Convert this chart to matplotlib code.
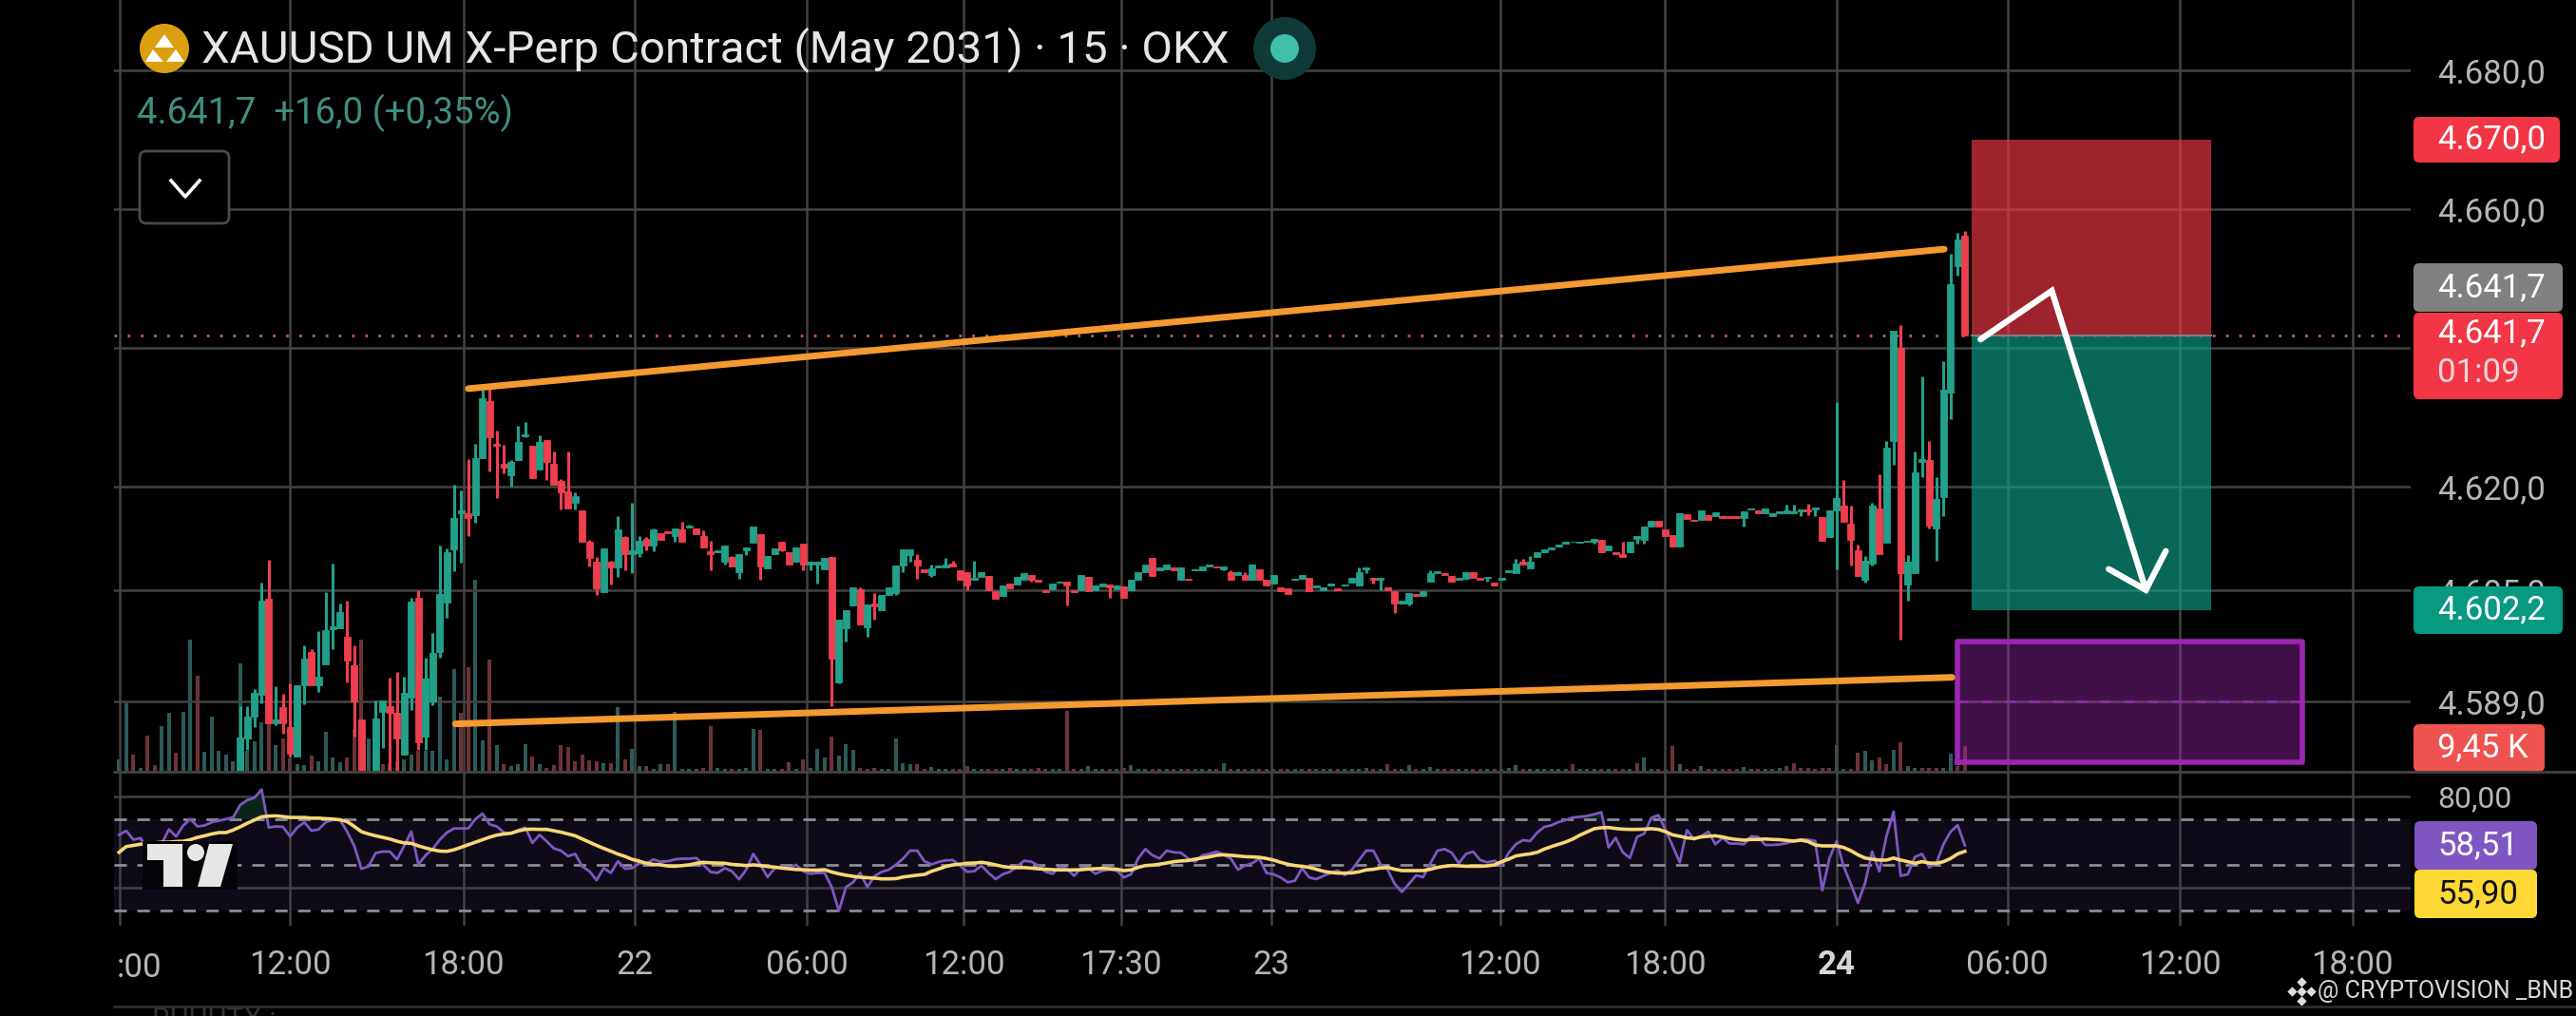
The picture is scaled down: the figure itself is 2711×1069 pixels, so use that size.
import numpy as np
import matplotlib
matplotlib.use('Agg')
import matplotlib.pyplot as plt
from matplotlib.patches import Circle, FancyBboxPatch, Polygon, Rectangle

plt.rcParams['font.family'] = ['Roboto', 'DejaVu Sans']

nan = float('nan')
NUM_BARS = 260
FIRST_CANDLE = 17   # older candles are below the visible range

opens = [
    4578.5,4583.7,4586.8,4590.0,4603.8,4585.9,4588.2,4585.4,4581.1,4591.3,
    4596.2,4591.3,4594.4,4599.5,4599.6,4598.4,4594.3,4586.5,nan,4578.5,
    4587.5,4588.4,4587.4,4581.4,4589.6,4603.9,4584.0,4589.1,4596.2,4603.3,
    4610.9,4616.2,4616.1,4615.9,4624.1,4632.3,4626.2,4623.3,4621.6,4623.8,
    4627.2,4625.9,4622.4,4626.7,4623.3,4620.8,4619.3,4617.6,4616.6,4612.1,
    4609.2,4604.8,4609.1,4608.3,4612.7,4610.3,4610.4,4612.4,4611.5,4613.3,
    4613.6,4612.9,4613.8,4614.1,4613.9,4612.9,4610.7,4610.6,4609.2,4609.9,
    4607.7,4610.8,4611.9,4613.1,4608.2,4610.2,4612.0,4610.5,4609.1,4611.7,
    4608.8,4608.8,4608.1,4609.8,4591.8,4599.6,4602.9,4605.2,4599.7,4603.2,
    4602.2,4604.4,4604.7,4608.6,4610.1,4609.4,4608.1,4607.2,4608.3,4608.4,
    4608.9,4608.0,4607.7,4606.6,4607.0,4607.1,4604.9,4604.3,4606.0,4605.9,
    4606.6,4607.3,4606.6,4605.1,4605.2,4606.1,4606.3,4605.1,4605.1,4607.0,
    4605.1,4605.6,4605.9,4605.2,4605.6,4605.0,4606.5,4607.7,4609.7,4608.0,
    4608.1,4608.3,4606.6,4606.7,4607.9,4607.9,4608.5,4608.5,4608.1,4607.6,
    4607.3,4607.2,4606.6,4608.1,4606.5,4606.0,4605.5,4605.3,4606.5,4606.7,
    4606.9,4605.4,4605.1,4605.8,4605.3,4605.7,4606.2,4605.8,4608.1,4606.8,
    4606.6,4605.4,4604.9,4603.2,4603.1,4604.5,4604.3,4606.3,4607.5,4607.5,
    4607.1,4606.5,4606.7,4607.7,4606.8,4606.8,4606.1,4606.5,4607.7,4607.5,
    4609.1,4608.2,4609.9,4610.6,4610.9,4611.4,4611.7,4612.0,4611.9,4612.0,
    4612.1,4612.3,4610.8,4610.6,4610.2,4610.5,4612.5,4612.3,4614.3,4615.0,
    4613.8,4613.0,4611.4,4616.0,4615.2,4615.2,4615.9,4615.7,4615.8,4615.8,
    4615.7,4615.5,4616.7,4616.5,4616.1,4615.8,4616.1,4616.2,4616.1,4616.4,
    4616.7,4616.7,4615.6,4612.7,4616.6,4617.2,4614.6,4610.8,4606.5,4608.9,
    4616.8,4611.9,4626.6,4640.0,4605.9,4607.5,4623.6,4623.8,4614.0,4618.5,
    4633.6,4651.7,4656.2,
]
closes = [
    4583.8,4586.8,4590.3,4603.6,4585.9,4586.4,4585.9,4581.5,4591.3,4595.2,
    4591.3,4592.6,4599.3,4599.8,4601.9,4594.9,4589.1,4578.5,nan,4586.6,
    4589.2,4587.4,4583.7,4590.3,4603.4,4583.2,4592.3,4596.0,4604.5,4610.6,
    4615.4,4616.6,4615.4,4624.1,4632.7,4627.1,4625.9,4622.7,4623.6,4626.4,
    4627.5,4621.2,4626.4,4623.6,4620.2,4619.2,4616.8,4618.6,4612.0,4609.7,
    4605.3,4611.1,4608.3,4613.8,4610.2,4610.8,4612.2,4611.5,4613.8,4612.3,
    4613.3,4613.9,4612.1,4614.4,4613.1,4611.2,4610.3,4610.8,4611.5,4608.5,
    4610.3,4611.2,4614.3,4608.5,4610.0,4611.1,4610.8,4608.8,4611.2,4608.7,
    4609.1,4609.1,4609.7,4595.2,4600.8,4602.2,4605.5,4600.1,4603.0,4602.7,
    4604.4,4605.5,4608.6,4611.0,4611.0,4608.6,4607.7,4608.2,4608.6,4608.7,
    4608.5,4606.6,4605.7,4606.9,4607.6,4605.0,4603.8,4605.8,4605.3,4607.0,
    4607.5,4606.6,4606.3,4604.8,4606.0,4606.3,4605.8,4604.8,4607.2,4604.9,
    4605.7,4606.0,4605.5,4605.8,4604.0,4606.5,4607.6,4608.7,4607.1,4608.3,
    4608.7,4608.0,4608.3,4606.5,4608.1,4608.5,4608.7,4608.3,4608.5,4606.6,
    4607.6,4606.6,4608.8,4606.6,4605.8,4607.2,4604.9,4604.5,4606.7,4607.3,
    4604.9,4605.7,4605.4,4606.0,4605.0,4605.9,4606.9,4607.7,4608.4,4606.5,
    4606.8,4605.1,4603.2,4603.5,4604.7,4604.2,4604.9,4607.5,4607.8,4607.2,
    4606.3,4606.8,4607.7,4606.9,4606.5,4607.0,4605.8,4606.8,4607.9,4608.9,
    4608.8,4609.2,4610.5,4610.9,4611.2,4611.6,4612.0,4612.1,4612.0,4612.2,
    4612.5,4610.6,4611.5,4610.3,4609.9,4612.1,4612.8,4614.2,4615.0,4614.2,
    4612.9,4611.4,4616.1,4615.3,4615.0,4616.5,4615.2,4616.3,4615.5,4615.5,
    4615.4,4616.4,4616.9,4616.2,4616.8,4616.1,4616.4,4616.6,4616.4,4616.7,
    4616.4,4617.0,4612.2,4616.5,4618.3,4614.9,4612.3,4607.1,4609.3,4617.3,
    4610.2,4625.6,4642.5,4607.5,4609.1,4622.0,4624.0,4614.4,4618.2,4634.0,
    4649.2,4655.6,4641.7,
]
highs = [
    4588.4,4588.3,4590.8,4606.2,4609.5,4591.2,4590.1,4591.6,4591.3,4597.1,
    4596.5,4599.1,4604.8,4608.9,4603.2,4603.6,4597.1,4586.5,nan,4589.2,
    4589.2,4592.5,4593.3,4592.6,4603.9,4605.1,4595.4,4598.9,4611.5,4611.1,
    4620.3,4619.4,4624.0,4626.1,4634.0,4634.7,4628.0,4626.0,4623.8,4628.8,
    4629.3,4625.9,4627.4,4626.7,4625.0,4621.1,4625.1,4619.2,4616.6,4612.3,
    4609.8,4611.1,4609.3,4615.8,4612.8,4617.7,4612.8,4612.7,4613.9,4613.3,
    4613.6,4614.0,4614.9,4614.5,4613.9,4613.7,4612.2,4610.8,4611.5,4610.0,
    4610.3,4611.2,4614.3,4613.1,4610.0,4611.1,4612.1,4610.5,4611.2,4611.7,
    4609.2,4609.2,4609.7,4609.8,4600.8,4602.2,4605.5,4605.4,4603.0,4604.6,
    4604.4,4605.5,4608.6,4611.0,4611.0,4610.3,4608.1,4608.8,4608.6,4609.7,
    4609.3,4608.0,4607.7,4609.3,4607.6,4607.1,4604.9,4605.8,4606.0,4607.0,
    4607.5,4607.3,4606.6,4605.1,4606.0,4606.3,4606.3,4605.1,4607.2,4607.0,
    4605.7,4606.0,4605.9,4605.8,4605.6,4606.5,4607.6,4608.7,4609.7,4608.3,
    4608.7,4608.3,4608.3,4606.7,4608.1,4608.5,4608.7,4608.5,4608.5,4608.0,
    4607.6,4607.7,4608.8,4608.1,4606.5,4607.2,4605.5,4605.3,4606.7,4607.3,
    4606.9,4605.7,4605.4,4606.0,4605.3,4605.9,4606.9,4608.4,4608.4,4606.8,
    4606.8,4605.4,4604.9,4603.5,4604.7,4604.5,4604.9,4608.0,4607.8,4607.5,
    4607.1,4606.8,4607.7,4607.7,4606.8,4607.0,4606.1,4606.8,4607.9,4609.6,
    4609.6,4610.0,4610.5,4610.9,4611.2,4611.6,4612.0,4612.1,4612.0,4612.2,
    4612.5,4612.3,4611.5,4610.6,4612.0,4612.1,4612.8,4614.2,4615.0,4615.0,
    4613.8,4613.0,4616.1,4616.0,4615.2,4616.5,4615.9,4616.3,4615.8,4615.8,
    4615.7,4616.4,4616.9,4616.5,4616.8,4616.1,4616.4,4617.4,4617.4,4616.7,
    4617.5,4617.0,4615.6,4616.5,4632.2,4621.0,4617.3,4611.6,4610.0,4617.6,
    4621.7,4626.5,4642.5,4643.2,4610.1,4625.1,4635.9,4626.5,4621.3,4638.1,
    4653.5,4656.5,4656.8,
]
lows = [
    4578.5,4582.0,4585.4,4588.8,4585.9,4585.6,4584.4,4581.1,4581.1,4588.6,
    4591.3,4590.4,4594.4,4596.6,4599.6,4591.8,4584.0,4578.5,nan,4578.5,
    4582.3,4578.5,4578.5,4581.4,4587.8,4582.0,4582.0,4588.5,4595.3,4601.1,
    4607.8,4609.0,4612.8,4614.8,4624.1,4622.2,4618.4,4621.9,4620.0,4623.8,
    4627.1,4621.2,4622.4,4621.0,4620.2,4616.7,4616.8,4616.7,4612.0,4608.5,
    4604.4,4604.8,4605.9,4607.0,4607.9,4607.5,4609.9,4610.8,4610.7,4612.3,
    4613.3,4612.1,4612.1,4614.1,4613.1,4611.2,4607.9,4610.6,4608.7,4608.5,
    4606.7,4610.1,4611.9,4606.5,4608.2,4610.2,4610.7,4608.8,4609.1,4607.9,
    4607.9,4606.0,4608.1,4588.4,4591.6,4597.6,4602.9,4600.1,4598.3,4600.8,
    4602.2,4604.4,4604.4,4607.7,4609.1,4606.7,4607.7,4607.0,4608.3,4608.4,
    4608.5,4606.6,4605.1,4606.6,4607.0,4605.0,4603.8,4604.3,4605.3,4605.9,
    4606.6,4606.3,4606.3,4604.8,4605.2,4606.1,4602.8,4604.8,4605.1,4604.9,
    4605.1,4605.6,4604.0,4605.2,4604.0,4605.0,4606.5,4607.7,4607.1,4608.0,
    4608.1,4608.0,4606.6,4606.5,4607.9,4607.9,4608.5,4608.3,4607.9,4606.6,
    4607.3,4606.6,4606.6,4606.6,4605.8,4606.0,4604.9,4604.5,4606.5,4606.7,
    4604.9,4605.4,4605.1,4605.8,4605.0,4605.7,4606.2,4605.8,4607.5,4606.0,
    4605.1,4605.1,4601.8,4603.2,4602.9,4604.2,4604.3,4606.3,4607.5,4607.2,
    4606.3,4606.5,4606.7,4606.9,4606.5,4606.3,4605.8,4606.5,4607.7,4607.5,
    4608.8,4608.2,4609.9,4610.6,4610.9,4611.4,4611.7,4612.0,4611.9,4612.0,
    4611.7,4610.6,4610.8,4610.3,4609.9,4610.5,4611.8,4611.7,4614.3,4614.2,
    4612.9,4611.4,4611.4,4615.3,4615.0,4615.2,4615.2,4615.7,4615.5,4615.5,
    4615.4,4614.2,4616.7,4616.2,4616.1,4615.8,4616.1,4616.2,4616.1,4615.8,
    4615.9,4615.8,4612.2,4612.7,4608.1,4614.9,4608.6,4607.1,4606.1,4608.6,
    4610.2,4611.9,4623.1,4598.0,4603.5,4607.5,4621.4,4614.0,4609.3,4615.8,
    4629.7,4650.4,4641.7,
]

# volume in thousands
volume = [
    4.7,25.3,6.4,1.5,13.2,2.3,16.7,21.6,6.9,22.1,
    48.7,35.5,7.2,20.2,7.6,6.4,3.7,40.0,7.6,11.1,
    18.1,17.5,9.9,12.2,5.0,2.9,2.3,6.1,3.7,14.6,
    5.2,3.5,5.2,15.7,48.7,12.2,6.0,2.7,3.0,4.0,
    4.7,6.4,7.6,7.6,7.6,27.7,4.4,37.9,21.8,38.5,
    70.7,11.4,41.4,9.7,2.7,2.0,2.9,10.3,5.5,2.9,
    1.5,2.3,9.9,9.2,3.7,6.4,4.1,3.7,3.3,3.3,
    23.9,4.7,8.4,2.0,2.0,1.2,2.9,2.9,22.1,0.9,
    0.9,0.9,1.5,16.7,1.5,0.9,1.0,1.0,1.5,15.7,
    15.5,0.9,0.9,1.0,3.5,1.0,4.7,1.5,8.4,5.2,
    12.8,5.9,10.0,7.9,1.3,0.9,1.3,0.9,0.9,12.2,
    3.0,2.7,2.7,0.9,1.7,0.9,0.9,0.9,0.9,2.1,
    0.9,0.9,0.9,0.9,0.9,1.5,0.9,0.9,0.9,1.3,
    0.9,0.9,0.9,22.3,0.9,0.9,2.1,0.9,0.9,0.9,
    0.9,1.5,2.5,0.9,0.9,0.9,0.9,0.9,0.9,0.9,
    0.9,0.9,0.9,0.9,0.9,3.0,0.9,0.9,0.9,0.9,
    0.9,0.9,0.9,0.9,0.9,0.9,0.9,0.9,0.9,0.9,
    0.9,0.9,0.9,0.9,0.9,1.3,1.0,0.9,2.7,0.9,
    0.9,2.5,0.9,0.9,1.7,0.9,0.9,0.9,0.9,0.9,
    0.9,0.9,1.0,0.9,0.9,1.5,2.5,1.0,0.9,0.9,
    0.9,0.9,0.9,0.9,2.7,0.9,0.9,0.9,0.9,0.9,
    0.9,0.9,0.9,3.3,5.2,0.9,0.9,0.9,9.3,2.9,
    0.9,0.9,2.1,0.9,0.9,0.9,0.9,0.9,1.7,0.9,
    0.9,0.9,0.9,1.5,2.1,3.3,1.4,1.4,1.0,1.4,
    1.4,9.7,1.0,1.0,6.9,7.6,4.1,5.1,2.8,8.0,
    10.8,2.0,1.4,1.4,1.4,1.4,1.5,6.5,2.0,9.45,
]
volume_dir = (
    "ggrgrrggrg" "grgggggggg" "grgrrggrgg" "ggrrrggrrr" "ggrgggggrr"
    "ggrgrgggrg" "rrrrrrrrgr" "grggrggrgg" "ggrrggrggg" "rggrrgrggg"
    "rgggrrrggg" "ggrrgggrrr" "ggrrgrggrr" "rggrrggggr" "grgggrggrg"
    "rgggrgrgrg" "rrgrrggrgg" "grggggrgrr" "ggrgggrrgg" "rrgrgggrgg"
    "ggggrgggrg" "rrgrggrrrg" "rrgrgrrrgg" "rgggrrrrrr" "rggrrggrrg"
    "rggrrrggrr"
)

rsi = [
    63.1,64.9,61.0,61.7,56.9,55.5,59.4,65.5,62.4,67.2,
    70.0,66.8,67.2,68.6,69.3,70.0,70.7,76.2,78.3,79.3,
    82.9,66.3,66.8,66.6,62.4,66.3,68.6,64.9,65.5,68.6,
    69.7,69.6,64.5,58.3,48.3,49.3,55.2,55.8,55.8,52.4,
    58.3,64.5,50.2,54.1,56.9,61.0,64.1,65.9,65.9,65.9,
    70.0,72.4,67.7,66.8,64.1,63.8,65.2,66.3,59.6,63.1,
    60.3,57.2,56.2,53.8,54.8,49.3,47.2,43.3,48.6,46.5,
    51.6,48.3,48.6,50.7,50.7,52.4,51.3,51.6,52.4,52.7,
    52.7,53.0,50.0,46.9,46.5,48.6,47.2,43.7,47.9,54.8,
    50.0,44.7,48.6,49.3,48.6,50.0,47.2,46.1,46.5,46.5,
    40.3,29.9,40.3,42.4,46.5,40.3,45.1,46.9,47.9,50.0,
    52.7,56.2,56.2,51.6,50.2,51.3,52.0,
    52.1,49.7,47.0,47.2,49.7,46.5,43.8,45.9,47.0,49.3,
    51.8,51.4,49.7,47.0,46.1,49.3,48.3,45.2,48.6,48.6,
    46.1,47.5,47.9,47.5,44.5,45.9,52.8,56.9,54.2,52.8,
    56.2,55.5,55.3,52.8,51.4,54.2,54.8,55.8,54.4,52.8,
    47.9,49.7,50.7,52.8,46.5,45.9,44.5,42.4,43.1,48.6,
    44.5,43.8,45.2,46.5,47.5,45.6,47.9,52.1,56.2,56.2,
    50.3,47.9,41.7,38.2,41.7,45.4,44.7,50.7,56.2,56.9,
    55.3,50.7,54.8,55.8,52.1,51.1,51.8,49.7,55.3,59.0,
    60.8,60.4,64.1,66.6,67.3,68.7,69.6,70.7,71.0,71.4,
    72.1,73.0,57.6,61.8,55.5,53.0,62.2,63.6,70.5,71.7,
    65.2,58.3,51.1,65.2,61.1,62.5,64.5,59.0,61.8,59.3,
    59.3,59.0,62.5,62.2,58.7,58.7,58.9,59.5,60.4,61.1,
    61.1,60.4,38.9,52.8,60.4,49.3,41.7,33.4,42.0,55.8,
    47.2,62.5,73.2,45.2,45.9,53.5,54.8,48.9,50.7,59.0,
    64.5,67.3,58.5,
]
rsi_ma = [
    55.5,58.0,58.5,59.0,59.4,59.6,59.9,59.9,60.2,60.3,
    61.0,62.0,62.7,63.5,64.1,64.1,65.2,66.6,68.2,69.6,
    71.0,71.3,71.4,71.1,70.7,70.7,70.7,70.4,70.4,70.2,
    70.0,69.7,68.9,66.8,64.5,63.5,62.7,62.0,61.3,60.3,
    59.6,59.4,58.3,57.4,56.6,56.0,55.9,56.6,57.7,58.8,
    59.9,61.0,62.1,63.0,63.5,63.8,64.8,65.5,65.6,65.5,
    65.5,64.9,64.3,63.5,62.7,61.3,59.9,58.5,57.2,56.0,
    54.7,53.7,52.4,51.6,50.7,50.2,50.0,49.5,49.4,49.7,
    50.0,50.7,51.1,50.9,50.8,50.7,50.2,50.0,49.7,50.0,
    49.7,49.3,49.0,48.6,48.3,48.0,47.9,47.7,47.7,47.9,
    46.9,46.1,45.5,45.0,44.6,44.4,44.2,43.9,43.9,44.0,
    44.7,45.1,45.5,45.8,47.2,48.2,49.3,
    50.0,50.3,50.7,50.8,51.1,50.7,50.0,49.3,48.9,48.8,
    48.8,48.6,48.3,48.1,47.9,47.8,47.8,47.8,47.9,48.2,
    48.3,48.5,48.3,48.1,47.5,47.8,48.9,49.7,49.9,50.3,
    50.8,51.4,51.7,51.9,52.5,53.0,53.5,54.2,54.4,54.2,
    53.9,53.6,53.5,53.3,52.8,52.1,51.1,50.3,49.7,49.4,
    48.9,48.1,47.2,46.7,46.4,46.4,46.5,47.0,47.8,48.1,
    48.6,48.9,48.1,47.5,47.5,47.5,47.5,48.1,48.9,49.4,
    49.7,49.6,49.4,49.4,49.4,49.6,50.0,51.4,52.5,53.9,
    54.4,54.8,55.5,56.9,58.0,59.0,60.0,61.3,63.0,64.4,
    65.8,66.2,66.3,65.9,65.6,65.5,65.5,65.6,65.8,65.5,
    64.5,63.1,62.5,61.8,61.5,62.2,62.5,62.7,62.2,61.5,
    61.1,60.8,61.1,61.1,61.3,61.1,61.0,60.7,60.4,60.8,
    60.2,58.7,58.3,58.3,58.3,57.6,56.2,54.4,53.0,52.5,
    52.1,52.1,53.0,52.1,51.4,50.7,51.4,50.8,50.7,51.4,
    52.8,54.8,55.9,
]

price_ticks = [4680, 4660, 4640, 4620, 4605, 4589]
price_labels = ['4.680,0', '4.660,0', '', '4.620,0', '4.605,0', '4.589,0']
time_ticks = [0.1, 24, 48.3, 72.4, 96.5, 118.5, 140.6, 161.7, 193.8, 216.9, 241, 265, 289.2, 313.4]
time_labels = ['', '12:00', '18:00', '22', '06:00', '12:00', '17:30', '23', '12:00', '18:00', '24', '06:00', '12:00', '18:00']

last_price = 4641.7
target_price = 4602.2
stop_price = 4670.0

# drawings on the chart, in bar index / price
upper_trend_x, upper_trend_y = [49.0, 256.1], [4634.1, 4654.2]
lower_trend_x, lower_trend_y = [47.2, 257.2], [4585.8, 4592.5]
position_x = [260.0, 293.6]
zone_x, zone_y = [258.0, 306.3], [4580.3, 4597.7]
zone_mid = 4589.0
arrow_x = [261.2, 271.2, 284.4]
arrow_y = [4641.2, 4648.2, 4605.1]
head_x = [279.2, 284.4, 287.2]
head_y = [4608.1, 4605.1, 4610.7]

GREEN = '#22a08a'
RED = '#ee3f4f'
VOL_GREEN = '#2b5a59'
VOL_RED = '#6e3236'
GRID = '#434343'
TICK = '#b4b6bb'

W, H = 2711, 1069
XLIM = (-0.71, 321.56)


def axes_px(left, top, right, bottom):
    return [left / W, (H - bottom) / H, (right - left) / W, (bottom - top) / H]


fig = plt.figure(figsize=(W / 100, H / 100), dpi=100, facecolor='black')

# price pane
ax = fig.add_axes(axes_px(120, 0, 2537, 812))
vol_ax = ax.twinx()
ax.set_zorder(2)
vol_ax.set_zorder(1)
ax.patch.set_visible(False)
vol_ax.set_facecolor('black')

x_all = np.arange(NUM_BARS)
vol_colors = [VOL_GREEN if d == 'g' else VOL_RED for d in volume_dir]
vol_ax.bar(x_all, volume, width=0.55, color=vol_colors)
vol_ax.set_ylim(0, 284)
vol_ax.axis('off')

o = np.array(opens)
c = np.array(closes)
hi = np.array(highs)
lo = np.array(lows)
xc = np.arange(FIRST_CANDLE, NUM_BARS)
ok = np.isfinite(o)
colors = np.array([GREEN if cc >= oo else RED for oo, cc in zip(o, c)])

ax.vlines(xc[ok], lo[ok], hi[ok], colors=colors[ok], lw=2.2, zorder=4)
ax.bar(xc[ok], np.abs(c - o)[ok], bottom=np.minimum(o, c)[ok], width=0.92,
       color=colors[ok], edgecolor=colors[ok], lw=0.6, zorder=5)

ax.set_xlim(*XLIM)
ax.set_ylim(4578.9, 4690.1)
ax.yaxis.tick_right()
ax.set_yticks(price_ticks)
ax.set_yticklabels(price_labels)
ax.set_xticks(time_ticks)
ax.tick_params(axis='x', length=0, labelbottom=False)
ax.tick_params(axis='y', length=0, pad=20, labelsize=25, labelcolor=TICK)
ax.grid(True, color=GRID, lw=1.8)
ax.set_axisbelow(True)
for s in ax.spines.values():
    s.set_visible(False)

# long/short position boxes and last price line
ax.axhline(last_price, color='#c05a62', lw=2, ls=(0, (1, 4)), zorder=3)
ax.fill_between(position_x, last_price, stop_price, color='#f23645', alpha=0.65, lw=0, zorder=3)
ax.fill_between(position_x, target_price, last_price, color='#0f9f86', alpha=0.65, lw=0, zorder=3)
ax.plot(position_x, [last_price, last_price], color='#808080', lw=1.5, zorder=3)

ax.fill_between(zone_x, zone_y[0], zone_y[1], color='#9c27b0', alpha=0.42, lw=0, zorder=6)
ax.plot([zone_x[0], zone_x[1], zone_x[1], zone_x[0], zone_x[0]],
        [zone_y[0], zone_y[0], zone_y[1], zone_y[1], zone_y[0]],
        color='#9c27b0', lw=4, zorder=7)
ax.plot(zone_x, [zone_mid, zone_mid], color='#8a2f9e', lw=2, ls=(0, (4, 5)), zorder=7)

ax.plot(upper_trend_x, upper_trend_y, color='#f59a2f', lw=5, solid_capstyle='round', zorder=8)
ax.plot(lower_trend_x, lower_trend_y, color='#f59a2f', lw=5, solid_capstyle='round', zorder=8)
ax.plot(arrow_x, arrow_y, color='white', lw=4.6, solid_capstyle='round', solid_joinstyle='miter', zorder=9)
ax.plot(head_x, head_y, color='white', lw=4.6, solid_capstyle='round', solid_joinstyle='miter', zorder=9)

# RSI pane
rax = fig.add_axes(axes_px(120, 813, 2537, 974), facecolor='black')
rsi_arr = np.array(rsi)
rax.axhspan(30, 70, color='#0f0a17', lw=0, zorder=0)
rax.fill_between(x_all, 70, rsi_arr, where=rsi_arr > 70, interpolate=True, color='#0d2418', lw=0, zorder=1)
rax.set_xlim(*XLIM)
rax.set_ylim(23.44, 90.25)
rax.set_yticks([80, 40])
rax.set_yticklabels(['80,00', ''])
rax.yaxis.tick_right()
rax.set_xticks(time_ticks)
rax.set_xticklabels(time_labels)
rax.tick_params(axis='x', length=0, pad=18, labelsize=25, labelcolor=TICK)
rax.tick_params(axis='y', length=0, pad=20, labelsize=23, labelcolor=TICK)
rax.grid(True, color=GRID, lw=1.8, zorder=1)
rax.set_axisbelow(True)
for lev in [70, 50, 30]:
    rax.axhline(lev, color='#8c8c94', lw=2, ls=(0, (4.7, 4)), zorder=2)
rax.plot(x_all, rsi, color='#7e57c2', lw=2, zorder=3)
rax.plot(x_all, rsi_ma, color='#f7d774', lw=2.6, zorder=4)
for s in rax.spines.values():
    s.set_visible(False)
for lab in rax.get_xticklabels():
    if lab.get_text() == '24':
        lab.set_fontweight('bold')
        lab.set_color('#d5d5d8')

# overlay in image pixels for the app interface
ui = fig.add_axes([0, 0, 1, 1], facecolor='none')
ui.set_xlim(0, W)
ui.set_ylim(H, 0)
ui.axis('off')
ui.set_zorder(10)

ui.plot([120, W], [812, 812], color=GRID, lw=2)
ui.plot([120, W], [1059, 1059], color='#2e2e2e', lw=2)

# symbol line
ui.add_patch(Circle((173, 51), 26, color='#dba00f', lw=0))
for tri in [[(173, 36), (163, 50), (183, 50)],
            [(161, 52), (153, 65), (172, 65)],
            [(185, 52), (175, 65), (194, 65)]]:
    ui.add_patch(Polygon(tri, color='white', lw=0))
ui.text(212, 52, 'XAUUSD UM X-Perp Contract (May 2031) \u00b7 15 \u00b7 OKX', color='#e6e6e6',
        fontsize=34.2, va='center', ha='left')
ui.add_patch(Circle((1352, 51), 33, color='#0f3a38', lw=0))
ui.add_patch(Circle((1352, 51), 15, color='#3fbfa8', lw=0))
ui.text(144, 119, '4.641,7  +16,0 (+0,35%)', color='#3f8f80', fontsize=27.5, va='center', ha='left')

ui.add_patch(FancyBboxPatch((150, 162), 88, 70, boxstyle='round,pad=3,rounding_size=7',
                            fc='black', ec='#4a4a4a', lw=2))
ui.plot([180, 195, 210], [190, 207, 190], color='white', lw=2.6)


def tag(x0, y0, x1, y1, color, text, tc='white', ty=None):
    ui.add_patch(FancyBboxPatch((x0 + 5, y0 + 5), x1 - x0 - 10, y1 - y0 - 10,
                                boxstyle='round,pad=5,rounding_size=6', fc=color, ec='none'))
    if text:
        ui.text(2565, ty if ty else (y0 + y1) / 2, text, color=tc, fontsize=25, va='center', ha='left')


tag(2540, 123, 2694, 171, '#f23645', '4.670,0')
tag(2540, 277, 2697, 328, '#808080', '4.641,7')
tag(2540, 329, 2697, 420, '#f23645', '4.641,7', ty=351)
ui.text(2565, 393, '01:09', color='#f0d5d8', fontsize=25, va='center', ha='left')
tag(2540, 617, 2697, 667, '#089981', '4.602,2')
tag(2540, 762, 2678, 812, '#ef5350', '9,45 K')
tag(2541, 864, 2670, 915, '#7e57c2', '58,51')
tag(2541, 915, 2670, 966, '#fdd835', '55,90', tc='#111111')

ui.text(123, 1018, ':00', color=TICK, fontsize=25, va='center', ha='left')

# TradingView mark
ui.add_patch(Rectangle((150, 885), 100, 51, color='#050308', lw=0))
ui.add_patch(Polygon([(155, 888), (192, 888), (192, 933), (172, 933), (172, 905), (155, 905)],
                     color='#e6e6e6', lw=0))
ui.add_patch(Circle((206, 897), 9, color='#e6e6e6', lw=0))
ui.add_patch(Polygon([(220, 888), (245, 888), (232, 933), (208, 933)], color='#e6e6e6', lw=0))

# watermark and the cut-off text at the bottom
ui.scatter([2422, 2412, 2432, 2422, 2422], [1043, 1043, 1043, 1033, 1053], marker='D', s=28,
           color='#dddddd', lw=0)
ui.text(2439, 1043, '@ CRYPTOVISION _BNB', color='#d8d8d8', fontsize=18, va='center', ha='left')
ui.text(160, 1074, 'RUUUTX :', color='#333333', fontsize=22, va='center', ha='left')

fig.savefig('out.png', dpi=100, facecolor='black')
